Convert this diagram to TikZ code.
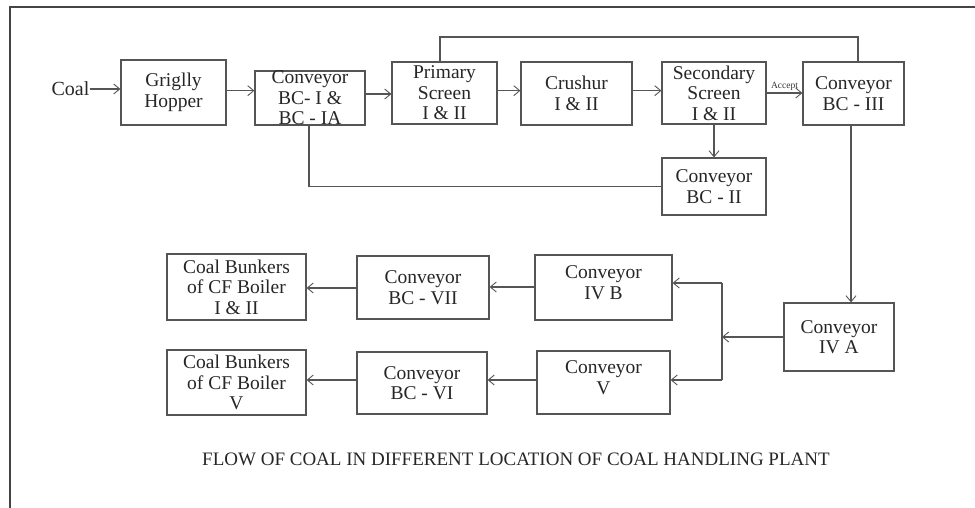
\documentclass[tikz,border=0pt]{standalone}
\usepackage{fontspec}
\setmainfont{Liberation Serif}
\usetikzlibrary{arrows.meta}
\definecolor{ln}{HTML}{555555}
\definecolor{fr}{HTML}{444444}
\tikzset{
  box/.style={draw=ln, line width=1.2pt, inner sep=0pt, align=center,
    font=\fontsize{19.5}{20.5}\selectfont, text=black!85},
  boxtext/.style={inner sep=0pt, align=center,
    font=\fontsize{19.5}{20.5}\selectfont, text=black!85},
  conn/.style={draw=ln, line width=1.1pt},
  arr/.style={conn, -{Straight Barb[length=6pt,width=10pt,line width=0.9pt]}},
}
\begin{document}
\begin{tikzpicture}[x=1pt,y=-1pt]
\useasboundingbox (0,0) rectangle (975,508);
\draw[fr, line width=2pt] (10,508) -- (10,7) -- (975,7);
% top row
\node[font=\fontsize{20}{21}\selectfont, inner sep=0pt, text=black!85] (coal) at (70.5,89) {Coal};
\node[box, minimum width=105pt, minimum height=65pt] (grig) at (173.5,92.5) {Griglly\\Hopper};
\node[box, minimum width=110pt, minimum height=54pt] (bc1) at (310,98) {Conveyor\\BC- I \&\\BC - IA};
\node[box, minimum width=105pt, minimum height=62pt] (prim) at (444.5,93) {Primary\\Screen\\I \& II};
\node[box, minimum width=111pt, minimum height=63pt] (crush) at (576.5,93.5) {Crushur\\I \& II};
\node[box, minimum width=104pt, minimum height=62pt] (sec) at (714,93) {Secondary\\Screen\\I \& II};
\node[box, minimum width=101pt, minimum height=63pt] (bc3) at (853.5,93.5) {Conveyor\\BC - III};
\node[box, minimum width=104pt, minimum height=57pt] (bc2) at (714,186.5) {Conveyor\\BC - II};
% lower part
\node[box, minimum width=110pt, minimum height=68pt] (iva) at (839,337) {Conveyor\\IV A};
\node[box, minimum width=137pt, minimum height=65pt] (ivb) at (603.5,287.5) {};
\node[boxtext] (ivbt) at ([yshift=5pt]ivb.center) {Conveyor\\IV B};
\node[box, minimum width=133pt, minimum height=63pt] (cv) at (603.5,382.5) {};
\node[boxtext] (cvt) at ([yshift=5pt]cv.center) {Conveyor\\V};
\node[box, minimum width=132pt, minimum height=63pt] (bc7) at (423,287.5) {Conveyor\\BC - VII};
\node[box, minimum width=130pt, minimum height=62pt] (bc6) at (422,383) {Conveyor\\BC - VI};
\node[box, minimum width=139pt, minimum height=66pt] (cb1) at (236.5,287) {Coal Bunkers\\of CF Boiler\\I \& II};
\node[box, minimum width=139pt, minimum height=65pt] (cb2) at (236.5,382.5) {Coal Bunkers\\of CF Boiler\\V};
\node[font=\fontsize{19}{20}\selectfont, inner sep=0pt, text=black!85] (title) at (516,459.5) {FLOW OF COAL IN DIFFERENT LOCATION OF COAL HANDLING PLANT};
% connectors
\draw[arr] (coal.east) -- (coal.east -| grig.west);
\draw[arr] (grig.east |- 0,90.7) -- (bc1.west |- 0,90.7);
\draw[arr] (bc1.east |- 0,94) -- (prim.west |- 0,94);
\draw[arr] (prim.east |- 0,90.7) -- (crush.west |- 0,90.7);
\draw[arr] (crush.east |- 0,90.7) -- (sec.west |- 0,90.7);
\draw[arr] (sec.east |- 0,93) -- node[above=1.5pt, inner sep=0pt, font=\fontsize{9.5}{10}\selectfont, text=black!80] (acc) {Accept} (bc3.west |- 0,93);
\coordinate (t1) at (440,37);
\coordinate (t2) at (858,37);
\draw[conn] (prim.north -| t1) -- (t1) -- (t2) -- (bc3.north -| t2);
\coordinate (b1) at (309,186.5);
\draw[conn] (bc1.south -| b1) -- (b1) -- (bc2.west);
\draw[arr] (sec.south) -- (bc2.north);
\coordinate (d1) at (851,0);
\draw[arr] (bc3.south -| d1) -- (iva.north -| d1);
\coordinate (j) at (722,337);
\coordinate (ju) at (722,283);
\coordinate (jd) at (722,380);
\draw[arr] (iva.west) -- (j);
\draw[conn] (ju) -- (jd);
\draw[arr] (ju) -- (ivb.east |- ju);
\draw[arr] (jd) -- (cv.east |- jd);
\draw[arr] (ivb.west |- 0,287) -- (bc7.east |- 0,287);
\draw[arr] (bc7.west |- 0,288) -- (cb1.east |- 0,288);
\draw[arr] (cv.west |- 0,380) -- (bc6.east |- 0,380);
\draw[arr] (bc6.west |- 0,380) -- (cb2.east |- 0,380);
\end{tikzpicture}
\end{document}
